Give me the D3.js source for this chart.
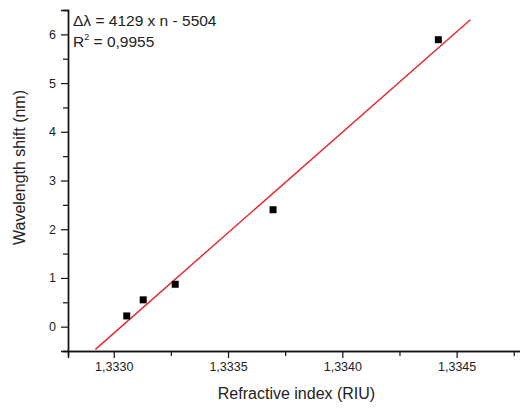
<!DOCTYPE html>
<html>
<head>
<meta charset="utf-8">
<script src="https://cdn.jsdelivr.net/npm/d3@7.9.0/dist/d3.min.js"></script>
<style>
  body { margin: 0; background: #fff; }
  svg text { font-family: "Liberation Sans", Arial, sans-serif; fill: #222; }
</style>
</head>
<body>
<svg id="chart" width="520" height="408"></svg>
<script>
// measured refractive index vs wavelength shift
const refIndex = [1.333057, 1.333129, 1.333269, 1.333697, 1.334420];
const shift = [0.22, 0.55, 0.87, 2.40, 5.89];
// x-range over which the fit line is drawn
const fitRange = [1.33292, 1.33456];
const xMajor = [1.3330, 1.3335, 1.3340, 1.3345];
const xMinor = [1.33325, 1.33375, 1.33425, 1.33475];
const yMajor = [0, 1, 2, 3, 4, 5, 6];
const yMinor = [-0.5, 0.5, 1.5, 2.5, 3.5, 4.5, 5.5];
const eqText = "\u0394\u03bb = 4129 x n - 5504";
const r2Text = "0,9955";

const svg = d3.select('#chart');

const x = d3.scaleLinear().domain([1.3328, 1.3348]).range([68, 525.2]);
const y = d3.scaleLinear().domain([-0.5, 6.5]).range([351, 10]);

const comma = (v) => d3.format('.4f')(v).replace('.', ',');

// minor ticks
let xMinorAxis = d3.axisBottom(x).tickValues(xMinor).tickSize(5).tickFormat('');
let yMinorAxis = d3.axisLeft(y).tickValues(yMinor).tickSize(5).tickFormat('');

svg.append('g').attr('transform', 'translate(0,351)').call(xMinorAxis);
svg.append('g').attr('transform', 'translate(68,0)').call(yMinorAxis);

let xAxis = d3.axisBottom(x).tickValues(xMajor).tickSize(7).tickPadding(4).tickFormat(comma);
let yAxis = d3.axisLeft(y).tickValues(yMajor).tickSize(7).tickPadding(5).tickFormat(d3.format('d'));

svg.append('g').attr('class', 'xaxis').attr('transform', 'translate(0,351)').call(xAxis);
svg.append('g').attr('class', 'yaxis').attr('transform', 'translate(68,0)').call(yAxis);

svg.selectAll('.domain').attr('stroke', '#111').attr('stroke-width', 1.4);
svg.selectAll('.tick line').attr('stroke', '#111').attr('stroke-width', 1.2);
svg.selectAll('.tick text').style('font-size', '12.5px').attr('fill', '#333');

// least squares fit from the points
const mx = d3.mean(refIndex), my = d3.mean(shift);
const slope = d3.sum(refIndex, (d, i) => (d - mx) * (shift[i] - my)) /
              d3.sum(refIndex, (d) => (d - mx) ** 2);
const icept = my - slope * mx;

svg.append('path')
  .datum(fitRange)
  .attr('d', d3.line().x((d) => x(d)).y((d) => y(slope * d + icept)))
  .attr('stroke', '#e3262c')
  .attr('stroke-width', 1.4)
  .attr('fill', 'none');

svg.selectAll('rect.pt')
  .data(refIndex)
  .join('rect')
  .attr('class', 'pt')
  .attr('x', (d) => x(d) - 3.5)
  .attr('y', (d, i) => y(shift[i]) - 3.5)
  .attr('width', 7)
  .attr('height', 7)
  .attr('fill', '#000');

// equation text
svg.append('text')
  .attr('x', 73).attr('y', 26)
  .style('font-size', '15.5px')
  .text(eqText);

let r2 = svg.append('text')
  .attr('x', 73).attr('y', 47)
  .style('font-size', '15.5px');
r2.append('tspan').text('R');
r2.append('tspan').attr('dy', -7).style('font-size', '9px').text('2');
r2.append('tspan').attr('dy', 7).text(' = ' + r2Text);

// axis titles
svg.append('text')
  .attr('x', 296.5).attr('y', 399)
  .attr('text-anchor', 'middle')
  .style('font-size', '16px')
  .text('Refractive index (RIU)');

svg.append('text')
  .attr('transform', 'translate(25,167.5) rotate(-90)')
  .attr('text-anchor', 'middle')
  .style('font-size', '16px')
  .text('Wavelength shift (nm)');
</script>
</body>
</html>
